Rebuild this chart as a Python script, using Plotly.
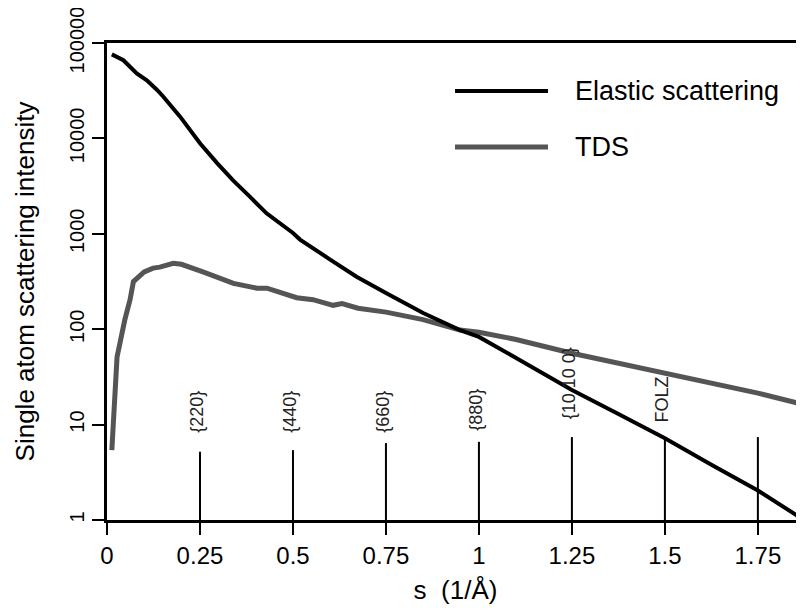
import math
import plotly.graph_objects as go

# ---------------- data ----------------
elastic_s = [0.013, 0.044, 0.080, 0.107, 0.134, 0.151, 0.196, 0.25, 0.296, 0.339, 0.384,
             0.429, 0.5, 0.519, 0.6, 0.671, 0.75, 0.85, 0.949, 1.0, 1.1, 1.25, 1.375,
             1.5, 1.625, 1.75, 1.874]
elastic_i = [76000, 66000, 48000, 40700, 32400, 27500, 17000, 8900, 5500, 3630, 2450,
             1640, 1020, 870, 537, 355, 240, 148, 98, 83, 50, 23, 12.9,
             7.2, 3.8, 2.04, 1.0]

tds_s = [0.013, 0.027, 0.048, 0.062, 0.071, 0.1, 0.124, 0.142, 0.178, 0.2, 0.258, 0.34,
         0.403, 0.43, 0.51, 0.554, 0.608, 0.632, 0.675, 0.75, 0.85, 0.949, 1.0, 1.1,
         1.25, 1.375, 1.5, 1.625, 1.75, 1.874]
tds_i = [5.4, 51, 126, 204, 316, 398, 437, 447, 490, 479, 398, 302,
         269, 269, 214, 204, 178, 186, 166, 151, 126, 98, 93, 78,
         56, 44, 35, 27.5, 21.4, 16.2]

ring_s = [0.25, 0.5, 0.75, 1.0, 1.25, 1.5, 1.75]
ring_top = [5.2, 5.4, 6.4, 6.6, 7.4, 7.2, 7.4]
ring_labels = ["{220}", "{440}", "{660}", "{880}", "{10 10 0}", "FOLZ", ""]
ring_label_base = [7.8, 7.8, 7.8, 8.2, 10.8, 10.0, 10.0]

x_tickvals = [0, 0.25, 0.5, 0.75, 1, 1.25, 1.5, 1.75]
x_ticktext = ["0", "0.25", "0.5", "0.75", "1", "1.25", "1.5", "1.75"]
y_tickvals = [1, 10, 100, 1000, 10000, 100000]
y_ticktext = ["1", "10", "100", "1000", "10000", "100000"]

series_names = ["Elastic scattering", "TDS"]

FONT = "Liberation Sans, Arial, Helvetica, sans-serif"

fig = go.Figure()

# ring marker lines
rx, ry = [], []
for s, t in zip(ring_s, ring_top):
    rx += [s, s, None]
    ry += [1, t, None]
fig.add_trace(go.Scatter(x=rx, y=ry, mode="lines",
                         line=dict(color="black", width=2), showlegend=False,
                         hoverinfo="skip"))

fig.add_trace(go.Scatter(x=tds_s, y=tds_i, mode="lines", name=series_names[1],
                         line=dict(color="#555555", width=5), showlegend=False))
fig.add_trace(go.Scatter(x=elastic_s, y=elastic_i, mode="lines", name=series_names[0],
                         line=dict(color="black", width=4), showlegend=False))

# ring labels
for s, lab, b in zip(ring_s, ring_labels, ring_label_base):
    if not lab:
        continue
    fig.add_annotation(x=s, y=math.log10(b), text=lab, textangle=-90,
                       showarrow=False, xanchor="center", yanchor="bottom", xshift=-3,
                       font=dict(family=FONT, size=18, color="#222222"))

# manual legend
leg = [(0.8994, "black", 4, series_names[0]), (0.782, "#555555", 5, series_names[1])]
for yp, col, w, name in leg:
    fig.add_shape(type="line", xref="paper", yref="paper", x0=0.4993, x1=0.6327,
                  y0=yp, y1=yp, line=dict(color=col, width=w))
    fig.add_annotation(xref="paper", yref="paper", x=0.6686, y=yp, text=name,
                       showarrow=False, xanchor="left", yanchor="middle",
                       font=dict(family=FONT, size=27, color="black"))

# the page adds an 8px body margin, so the figure is sized to fit the window
fig.update_layout(
    width=796, height=602,
    margin=dict(l=99, r=0, t=35, b=90),
    paper_bgcolor="white", plot_bgcolor="white",
    font=dict(family=FONT, color="black"),
    showlegend=False,
)
fig.update_xaxes(range=[0, 1.874], tickvals=x_tickvals, ticktext=x_ticktext,
                 ticks="outside", ticklen=12, tickwidth=2, tickcolor="black",
                 showline=True, linecolor="black", linewidth=3, mirror=True,
                 showgrid=False, zeroline=False, automargin=False,
                 tickfont=dict(family=FONT, size=24, color="black"),
                 title=dict(text="s  (1/Å)", font=dict(family=FONT, size=26), standoff=14))
fig.update_yaxes(type="log", range=[0, 5], tickvals=y_tickvals, ticktext=y_ticktext,
                 ticks="outside", ticklen=12, tickwidth=2, tickcolor="black",
                 showline=True, linecolor="black", linewidth=3,
                 showgrid=False, zeroline=False, tickangle=-90, automargin=False,
                 ticklabeloverflow="allow",
                 tickfont=dict(family=FONT, size=20, color="black"),
                 title=dict(text="Single atom scattering intensity",
                            font=dict(family=FONT, size=26), standoff=24))

fig.write_html("out.html")
